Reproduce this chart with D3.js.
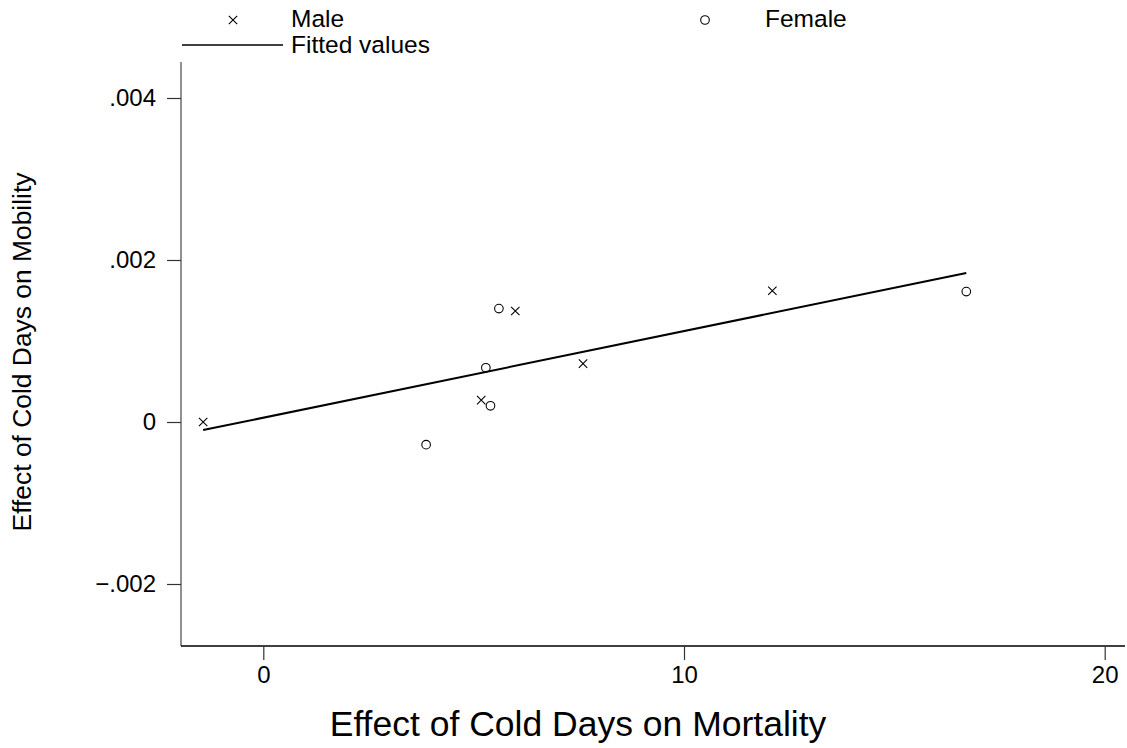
<!DOCTYPE html>
<html>
<head>
<meta charset="utf-8">
<script src="https://cdn.jsdelivr.net/npm/d3@7"></script>
<style>
  html, body { margin: 0; padding: 0; background: #fff; }
  svg { display: block; font-family: "Liberation Sans", Arial, Helvetica, sans-serif; }
</style>
</head>
<body>
<svg id="chart" width="1127" height="748"></svg>
<script>
// ---- data ----
const maleX = [-1.43, 5.18, 5.99, 7.60, 12.10];
const maleY = [0.00000, 0.00027, 0.00137, 0.00072, 0.00162];
const femaleX = [3.87, 5.29, 5.40, 5.60, 16.71];
const femaleY = [-0.00028, 0.00067, 0.00020, 0.00140, 0.00161];
const fitX = [-1.43, 16.71];
const fitY = [-0.00010, 0.00184];
const xTicks = [0, 10, 20];
const yTicks = [-0.002, 0, 0.002, 0.004];
const yTickLabels = ["\u2212.002", "0", ".002", ".004"];
const legendLabels = ["Male", "Female", "Fitted values"];
const xTitle = "Effect of Cold Days on Mortality";
const yTitle = "Effect of Cold Days on Mobility";

// ---- layout ----
const plotLeft = 181, plotRight = 1125, plotTop = 62, plotBottom = 646;
const svg = d3.select("#chart");

const x = d3.scaleLinear().domain([0, 20]).range([263.3, 1104.7]);
const y = d3.scaleLinear().domain([-0.002, 0.004]).range([584, 98]);

// axes lines
svg.append("line").attr("x1", plotLeft).attr("x2", plotLeft)
  .attr("y1", plotTop).attr("y2", plotBottom).attr("stroke", "#555").attr("stroke-width", 1.3);
svg.append("line").attr("x1", plotLeft).attr("x2", plotRight)
  .attr("y1", plotBottom).attr("y2", plotBottom).attr("stroke", "#000").attr("stroke-width", 1.3);

// y axis
const yAxis = d3.axisLeft(y).tickValues(yTicks).tickSize(14).tickPadding(11)
  .tickFormat((d, i) => yTickLabels[i]);
const gy = svg.append("g").attr("transform", `translate(${plotLeft},0)`).call(yAxis);
gy.select(".domain").remove();
gy.selectAll(".tick line").attr("stroke", "#333").attr("stroke-width", 1.2);
gy.selectAll(".tick text").attr("font-size", 24).attr("fill", "#000")
  .attr("font-family", "'Liberation Sans', Arial, sans-serif");

// x axis
const xAxis = d3.axisBottom(x).tickValues(xTicks).tickSize(14).tickPadding(6)
  .tickFormat(d3.format("d"));
const gx = svg.append("g").attr("transform", `translate(0,${plotBottom})`).call(xAxis);
gx.select(".domain").remove();
gx.selectAll(".tick line").attr("stroke", "#333").attr("stroke-width", 1.2);
gx.selectAll(".tick text").attr("font-size", 24).attr("fill", "#000")
  .attr("font-family", "'Liberation Sans', Arial, sans-serif");

// titles
svg.append("text").attr("x", 578).attr("y", 736).attr("text-anchor", "middle")
  .attr("font-size", 35.5).attr("fill", "#000").text(xTitle);
svg.append("text").attr("transform", "translate(31,352) rotate(-90)")
  .attr("text-anchor", "middle").attr("font-size", 26.4).attr("fill", "#000").text(yTitle);

// fitted line
const fit = fitX.map((d, i) => [d, fitY[i]]);
svg.append("path").datum(fit)
  .attr("d", d3.line().x(d => x(d[0])).y(d => y(d[1])))
  .attr("fill", "none").attr("stroke", "#000").attr("stroke-width", 2);

// markers
const cross = (g, cx, cy, s) => {
  g.append("path")
    .attr("d", `M${cx - s},${cy - s}L${cx + s},${cy + s}M${cx - s},${cy + s}L${cx + s},${cy - s}`)
    .attr("stroke", "#000").attr("stroke-width", 1.1).attr("fill", "none");
};
const males = maleX.map((d, i) => [d, maleY[i]]);
const females = femaleX.map((d, i) => [d, femaleY[i]]);
const gm = svg.append("g");
males.forEach(d => cross(gm, x(d[0]), y(d[1]), 4.2));
svg.append("g").selectAll("circle").data(females).join("circle")
  .attr("cx", d => x(d[0])).attr("cy", d => y(d[1])).attr("r", 4.3)
  .attr("fill", "none").attr("stroke", "#000").attr("stroke-width", 1.1);

// legend
const lg = svg.append("g");
cross(lg, 233, 20, 4.2);
lg.append("text").attr("x", 291).attr("y", 26.5).attr("font-size", 24.5).text(legendLabels[0]);
lg.append("circle").attr("cx", 705).attr("cy", 20).attr("r", 4.3)
  .attr("fill", "none").attr("stroke", "#000").attr("stroke-width", 1.1);
lg.append("text").attr("x", 765).attr("y", 26.5).attr("font-size", 24.5).text(legendLabels[1]);
lg.append("line").attr("x1", 182).attr("x2", 283).attr("y1", 45).attr("y2", 45)
  .attr("stroke", "#000").attr("stroke-width", 1.3);
lg.append("text").attr("x", 291).attr("y", 53).attr("font-size", 24.5).text(legendLabels[2]);
</script>
</body>
</html>
